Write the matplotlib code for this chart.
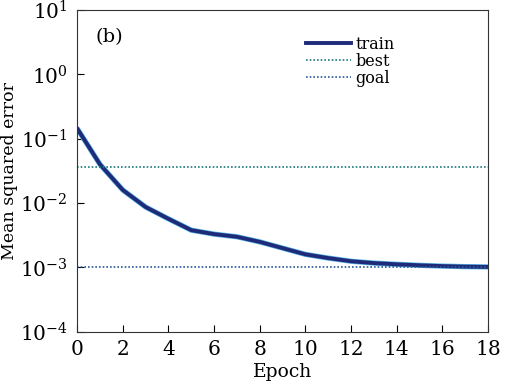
import matplotlib
matplotlib.use("Agg")
import matplotlib.pyplot as plt
import numpy as np

plt.rcParams["font.family"] = "DejaVu Serif"
plt.rcParams["mathtext.fontset"] = "dejavuserif"

# --- Datos --------------------------------------------------------------------
epocas = list(range(0, 19))
mse_train = [0.145, 0.040, 0.016, 0.0087, 0.0057, 0.0038, 0.0033, 0.0030,
             0.0025, 0.0020, 0.0016, 0.0014, 0.00125, 0.00117, 0.00112,
             0.00108, 0.00105, 0.00103, 0.00102]
mse_best = 0.037
mse_goal = 0.001

fig = plt.figure(figsize=(5.11, 3.89), dpi=100)
ax = fig.add_axes([0.151, 0.147, 0.804, 0.827])

ax.plot(epocas, mse_train, color="#5ab8e8", lw=3.8, solid_capstyle="butt")
ax.plot(epocas, mse_train, color="#1f2a78", lw=2.8, label="train")
ax.axhline(mse_best, color="#1a7a7a", lw=1.2, ls=(0, (1, 1.2)), label="best")
ax.axhline(mse_goal, color="#2a5a9a", lw=1.2, ls=(0, (1, 1.2)), label="goal")

ax.set_yscale("log")
ax.set_ylim(1e-4, 1e1)
ax.set_xlim(0, 18)
ax.set_xticks(np.arange(0, 19, 2))
ax.yaxis.set_minor_locator(matplotlib.ticker.NullLocator())
ax.tick_params(direction="in", length=5, labelsize=14.5, top=False, right=False)
ax.tick_params(axis="y", pad=7)
ax.tick_params(axis="x", pad=6)
ax.set_xlabel("Epoch", fontsize=13.5, labelpad=3)
ax.set_ylabel("Mean squared error", fontsize=12.5)
ax.yaxis.set_label_coords(-0.145, 0.5)

ax.text(0.045, 0.945, "(b)", transform=ax.transAxes, fontsize=14, va="top")
ax.legend(loc="upper right", bbox_to_anchor=(0.80, 0.955), frameon=False,
          fontsize=11.5, handlelength=2.8, labelspacing=0.0, borderpad=0.2,
          handletextpad=0.3)

for s in ax.spines.values():
    s.set_color("#333333")

fig.savefig("out.png", dpi=100)
